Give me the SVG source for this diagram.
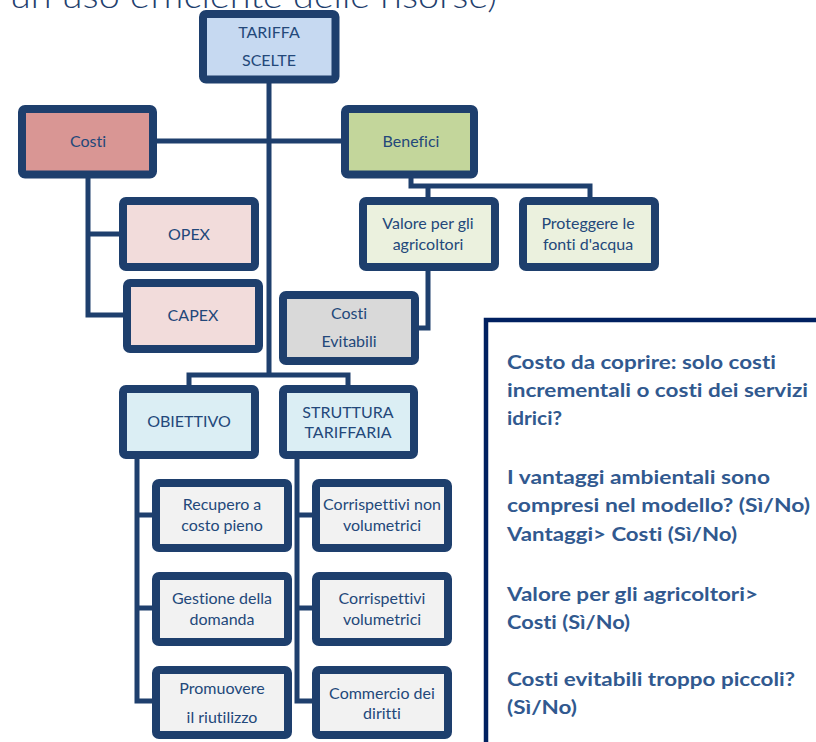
<svg xmlns="http://www.w3.org/2000/svg" width="816" height="742" viewBox="0 0 816 742">
<style>
.box{stroke:#1e3f6d;stroke-width:8;}
.lbl{font-family:Lato,"Liberation Sans",sans-serif;font-size:16px;fill:#23487a;text-anchor:middle;font-variant-ligatures:none;}
.conn{fill:none;stroke:#1e3f6d;stroke-width:5;stroke-linejoin:miter;}
.q{font-family:Lato,"Liberation Sans",sans-serif;font-size:18px;font-weight:bold;fill:#31598f;font-variant-ligatures:none;}
</style>
<rect width="816" height="742" fill="#ffffff"/>
<text x="10" y="7.5" font-family="Lato,'Liberation Sans',sans-serif" font-size="34" font-weight="300" fill="#1f3f6e" textLength="487" lengthAdjust="spacingAndGlyphs" style="font-variant-ligatures:none">un uso efficiente delle risorse)</text>

<g id="connectors">
<path class="conn" d="M269,83 V375"/>
<path class="conn" d="M157,141 H341"/>
<path class="conn" d="M88,178 V315 H123 M88,234 H119"/>
<path class="conn" d="M411,178 V186 H590 V197 M428,186 V197"/>
<path class="conn" d="M428,271 V328 H419"/>
<path class="conn" d="M189,385 V375 H348 V385"/>
<path class="conn" d="M137,459 V701 H152 M137,515 H152 M137,608 H152"/>
<path class="conn" d="M297,459 V701 H312 M297,515 H312 M297,608 H312"/>
</g>

<g id="n-tariffa"><rect class="box" x="203" y="14" width="132.5" height="65.5" rx="3" fill="#c6d9f1"/>
<text class="lbl" x="269" y="38">TARIFFA</text><text class="lbl" x="269" y="66">SCELTE</text></g>

<g id="n-costi"><rect class="box" x="22" y="109" width="131" height="65.5" rx="3" fill="#d99694"/>
<text class="lbl" x="88" y="146.5">Costi</text></g>

<g id="n-benefici"><rect class="box" x="345" y="109" width="129" height="65.5" rx="3" fill="#c3d69b"/>
<text class="lbl" x="411" y="146.5">Benefici</text></g>

<g id="n-opex"><rect class="box" x="123" y="201" width="132" height="66" rx="3" fill="#f2dcdb"/>
<text class="lbl" x="189" y="239.5">OPEX</text></g>

<g id="n-capex"><rect class="box" x="127" y="283" width="132" height="66" rx="3" fill="#f2dcdb"/>
<text class="lbl" x="193" y="320.5">CAPEX</text></g>

<g id="n-valore"><rect class="box" x="363" y="201" width="132" height="66" rx="3" fill="#ebf1de"/>
<text class="lbl" x="428" y="228.5">Valore per gli</text><text class="lbl" x="428" y="249.5">agricoltori</text></g>

<g id="n-proteggere"><rect class="box" x="523" y="201" width="132" height="66" rx="3" fill="#ebf1de"/>
<text class="lbl" x="588" y="228.5">Proteggere le</text><text class="lbl" x="588" y="249.5">fonti d'acqua</text></g>

<g id="n-evitabili"><rect class="box" x="283" y="295" width="132" height="66" rx="3" fill="#d9d9d9"/>
<text class="lbl" x="349" y="318.5">Costi</text><text class="lbl" x="349" y="346.5">Evitabili</text></g>

<g id="n-obiettivo"><rect class="box" x="123" y="389" width="132" height="66" rx="3" fill="#dbeef4"/>
<text class="lbl" x="189" y="426.5">OBIETTIVO</text></g>

<g id="n-struttura"><rect class="box" x="283" y="389" width="131" height="66" rx="3" fill="#dbeef4"/>
<text class="lbl" x="348" y="417.5">STRUTTURA</text><text class="lbl" x="348" y="437.5">TARIFFARIA</text></g>

<g id="n-recupero"><rect class="box" x="156" y="483" width="132" height="65" rx="3" fill="#f2f2f2"/>
<text class="lbl" x="222" y="509.5">Recupero a</text><text class="lbl" x="222" y="530.5">costo pieno</text></g>

<g id="n-nonvol"><rect class="box" x="316" y="483" width="132" height="65" rx="3" fill="#f2f2f2"/>
<text class="lbl" x="382" y="509.5">Corrispettivi non</text><text class="lbl" x="382" y="530.5">volumetrici</text></g>

<g id="n-gestione"><rect class="box" x="156" y="576" width="132" height="66" rx="3" fill="#f2f2f2"/>
<text class="lbl" x="222" y="603.5">Gestione della</text><text class="lbl" x="222" y="624.5">domanda</text></g>

<g id="n-vol"><rect class="box" x="316" y="576" width="132" height="66" rx="3" fill="#f2f2f2"/>
<text class="lbl" x="382" y="603.5">Corrispettivi</text><text class="lbl" x="382" y="624.5">volumetrici</text></g>

<g id="n-promuovere"><rect class="box" x="156" y="670" width="132" height="65" rx="3" fill="#f2f2f2"/>
<text class="lbl" x="222" y="693.5">Promuovere</text><text class="lbl" x="222" y="722.5">il riutilizzo</text></g>

<g id="n-commercio"><rect class="box" x="316" y="670" width="132" height="65" rx="3" fill="#f2f2f2"/>
<text class="lbl" x="382" y="698.5">Commercio dei</text><text class="lbl" x="382" y="718.5">diritti</text></g>

<g id="n-domande">
<rect x="486" y="320" width="360" height="450" fill="#ffffff" stroke="#002060" stroke-width="4.5"/>
<text class="q" x="507" y="369" textLength="269" lengthAdjust="spacingAndGlyphs">Costo da coprire: solo costi</text>
<text class="q" x="507" y="397" textLength="301" lengthAdjust="spacingAndGlyphs">incrementali o costi dei servizi</text>
<text class="q" x="507" y="425" textLength="55" lengthAdjust="spacingAndGlyphs">idrici?</text>
<text class="q" x="507" y="484" textLength="263" lengthAdjust="spacingAndGlyphs">I vantaggi ambientali sono</text>
<text class="q" x="507" y="512" textLength="303" lengthAdjust="spacingAndGlyphs">compresi nel modello? (Sì/No)</text>
<text class="q" x="507" y="541" textLength="230" lengthAdjust="spacingAndGlyphs">Vantaggi&gt; Costi (Sì/No)</text>
<text class="q" x="507" y="601" textLength="251" lengthAdjust="spacingAndGlyphs">Valore per gli agricoltori&gt;</text>
<text class="q" x="507" y="629" textLength="123" lengthAdjust="spacingAndGlyphs">Costi (Sì/No)</text>
<text class="q" x="507" y="686" textLength="288" lengthAdjust="spacingAndGlyphs">Costi evitabili troppo piccoli?</text>
<text class="q" x="507" y="714" textLength="70" lengthAdjust="spacingAndGlyphs">(Sì/No)</text>
</g>
</svg>
